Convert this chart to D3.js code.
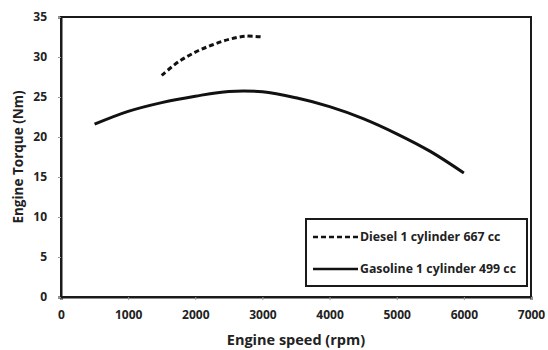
<!DOCTYPE html>
<html><head><meta charset="utf-8">
<script src="https://cdn.jsdelivr.net/npm/d3@7"></script>
<style>body{margin:0;background:#fff}svg{display:block}text{font-family:"Open Sans","Liberation Sans",sans-serif;font-weight:bold;fill:#222}</style>
</head><body><svg id="c" width="548" height="350"></svg>
<script>
const gasolineRpm = [500,1000,1500,2000,2500,3000,3500,4000,4500,5000,5500,6000];
const gasolineTorque = [21.6,23.2,24.3,25.1,25.7,25.65,24.9,23.8,22.3,20.4,18.2,15.5];
const dieselRpm = [1500,1750,2000,2250,2500,2750,3000];
const dieselTorque = [27.7,29.4,30.6,31.5,32.2,32.6,32.5];
const xTicks = [0,1000,2000,3000,4000,5000,6000,7000];
const yTicks = [0,5,10,15,20,25,30,35];
const seriesNames = ["Diesel 1 cylinder 667 cc","Gasoline 1 cylinder 499 cc"];

const svg = d3.select("#c");
const m = {l:61,r:17,t:17,b:53};
const W = 548, H = 350;
const x = d3.scaleLinear().domain([0,7000]).range([m.l, W-m.r]);
const y = d3.scaleLinear().domain([0,35]).range([H-m.b, m.t]);

// frame
svg.append("rect").attr("x",m.l).attr("y",m.t).attr("width",W-m.r-m.l).attr("height",H-m.b-m.t)
  .attr("fill","none").attr("stroke","#1a1a1a").attr("stroke-width",2);

const xa = svg.append("g").attr("transform",`translate(0,${H-m.b})`)
  .call(d3.axisBottom(x).tickValues(xTicks).tickFormat(d3.format("d")).tickSize(3).tickPadding(10));
const ya = svg.append("g").attr("transform",`translate(${m.l},0)`)
  .call(d3.axisLeft(y).tickValues(yTicks).tickSize(3).tickPadding(11));
[xa,ya].forEach(a=>{
  a.select(".domain").attr("stroke","#1a1a1a").attr("stroke-width",2);
  a.selectAll(".tick line").attr("stroke","#999");
  a.selectAll(".tick text").style("font-size","12px").attr("fill","#222");
});

const line = d3.line().curve(d3.curveCatmullRom.alpha(0.5));
svg.append("path").attr("d", line(gasolineRpm.map((r,i)=>[x(r),y(gasolineTorque[i])])))
  .attr("fill","none").attr("stroke","#111").attr("stroke-width",3);
svg.append("path").attr("d", line(dieselRpm.map((r,i)=>[x(r),y(dieselTorque[i])])))
  .attr("fill","none").attr("stroke","#111").attr("stroke-width",3).attr("stroke-dasharray","5,3");

svg.append("text").attr("x",296).attr("y",345).attr("text-anchor","middle")
  .style("font-size","14.5px").text("Engine speed (rpm)");
svg.append("text").attr("transform",`translate(23,${(m.t+H-m.b)/2}) rotate(-90)`).attr("text-anchor","middle")
  .style("font-size","13.5px").text("Engine Torque (Nm)");

// legend
const lg = svg.append("g");
lg.append("rect").attr("x",306).attr("y",219).attr("width",221).attr("height",67)
  .attr("fill","#fff").attr("stroke","#1a1a1a").attr("stroke-width",2);
const rows = [237,269];
seriesNames.forEach((n,i)=>{
  lg.append("line").attr("x1",313).attr("x2",358).attr("y1",rows[i]).attr("y2",rows[i])
    .attr("stroke","#111").attr("stroke-width",2.5).attr("stroke-dasharray", i===0?"5,3":null);
  lg.append("text").attr("x",360).attr("y",rows[i]).attr("dy","0.35em").style("font-size","12.3px").text(n);
});
</script></body></html>
